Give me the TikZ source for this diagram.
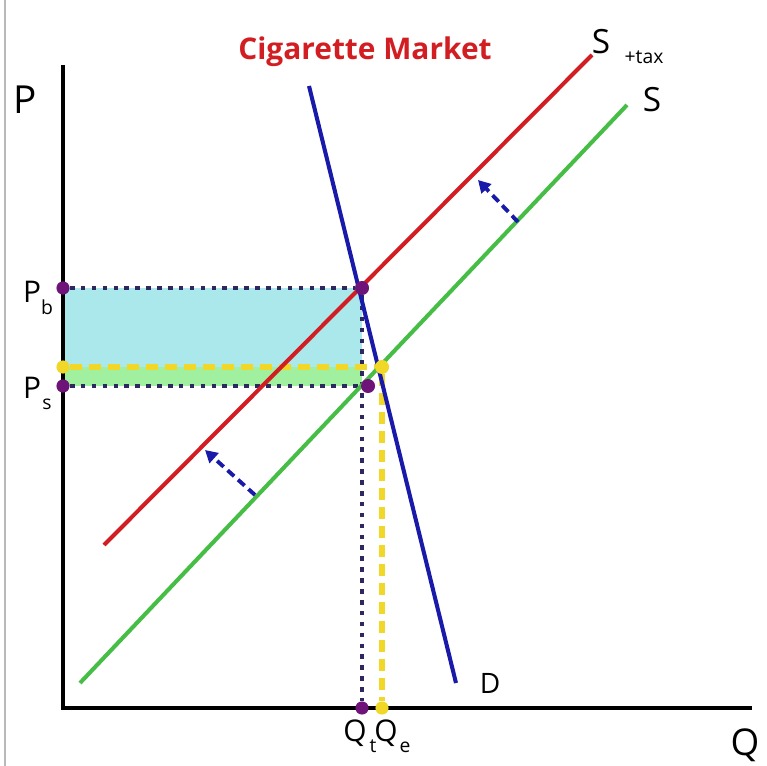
\documentclass[tikz,border=0pt]{standalone}
\usepackage{fontspec}
\setmainfont{Open Sans}
\usetikzlibrary{arrows.meta,positioning}

\definecolor{taxred}{RGB}{210,30,35}
\definecolor{supgreen}{RGB}{70,190,70}
\definecolor{demblue}{RGB}{25,25,170}
\definecolor{dotpurple}{RGB}{110,20,120}
\definecolor{dotnavy}{RGB}{45,40,95}
\definecolor{eqyellow}{RGB}{240,215,40}
\definecolor{revcyan}{RGB}{170,232,236}
\definecolor{bandgreen}{RGB}{160,240,160}

\begin{document}
\begin{tikzpicture}[x=0.02cm,y=-0.02cm,
  axis/.style={line width=2.8pt},
  curve/.style={line width=2.3pt},
  dotline/.style={dotnavy,line width=2.4pt,dash pattern=on 2.6pt off 3.6pt},
  eqline/.style={eqyellow,line width=3.4pt,dash pattern=on 7pt off 3.8pt},
  shift arrow/.style={demblue,line width=2.2pt,dash pattern=on 5pt off 3pt,-{Triangle[length=7pt,width=7.5pt]}},
  pdot/.style={circle,fill=dotpurple,inner sep=0pt,minimum size=7.5pt},
  ydot/.style={circle,fill=eqyellow,inner sep=0pt,minimum size=7.5pt},
  lab/.style={inner sep=0pt}]
\useasboundingbox (0,0) rectangle (767,766);

%% frame line at the left edge
\draw[gray!55,line width=0.8pt] (5,0) -- (5,766);

%% key points
\coordinate (O) at (63,708);      % origin
\coordinate (Ptop) at (63,65);    % top of price axis
\coordinate (Qend) at (752,708);  % end of quantity axis

\coordinate (T1) at (104,545);    % S+tax
\coordinate (T2) at (592,55);
\coordinate (S1) at (80,683);     % S
\coordinate (S2) at (627,105);
\coordinate (D1) at (309,86);     % D
\coordinate (D2) at (456,683);

%% tax revenue area
\fill[revcyan] (63,288) rectangle (362,386);
\fill[bandgreen] (63,367) rectangle (362,386);

%% axes
\draw[axis] (Ptop) -- (O) -- (Qend);

%% dots
\node[pdot] (Pb) at (63,288) {};
\node[pdot] (Bdot) at (362,288) {};
\node[pdot] (Ps) at (63,386) {};
\node[pdot] (Sdot) at (368,386) {};
\node[pdot] (Qt) at (362,708) {};
\node[ydot] (Pe) at (63,367) {};
\node[ydot] (Edot) at (382,367) {};
\node[ydot] (Qe) at (382,708) {};

%% dotted and dashed guides
\draw[dotline] (Pb) -- (Bdot);
\draw[dotline] (Ps) -- (Sdot);
\draw[dotline] (Bdot) -- (Qt);
\draw[eqline] (Pe) -- (Edot);
\draw[eqline] (Edot) -- (Qe);

%% curves
\draw[curve,supgreen] (S1) -- (S2);
\draw[curve,taxred] (T1) -- (T2);
\draw[curve,demblue] (D1) -- (D2);

%% redraw dots on top
\fill[dotpurple] (Bdot) circle (7);
\fill[dotpurple] (Sdot) circle (7);
\fill[eqyellow] (Edot) circle (7);

%% shift arrows
\coordinate (a1s) at (255,495); \coordinate (a1t) at (205,450);
\coordinate (a2s) at (518,222); \coordinate (a2t) at (478,180);
\draw[shift arrow] (a1s) -- (a1t);
\draw[shift arrow] (a2s) -- (a2t);

%% labels
\node[lab,font=\bfseries\fontsize{17}{20}\selectfont,text=taxred] (title) at (365,52) {Cigarette Market};
\node[lab,font=\fontsize{22}{26}\selectfont] (Plab) at (25,100) {P};
\node[lab,font=\fontsize{21}{25}\selectfont] (Qlab) at (745,745) {Q};
\node[lab,font=\fontsize{19}{23}\selectfont] (Slab) at (652,100) {S};
\node[lab,font=\fontsize{19}{23}\selectfont] (STlab) at (601,42) {S};
\node[lab,font=\fontsize{11}{13}\selectfont] (taxlab) at (644,57) {+tax};
\node[lab,font=\fontsize{16}{19}\selectfont] (Dlab) at (490,683) {D};
\node[lab,font=\fontsize{17}{20}\selectfont] (Pblab) at (32,292) {P};
\node[lab,font=\fontsize{11}{13}\selectfont] (blab) at (47,307) {b};
\node[lab,font=\fontsize{17}{20}\selectfont] (Pslab) at (32,388) {P};
\node[lab,font=\fontsize{11}{13}\selectfont] (slab) at (47,404) {s};
\node[lab,font=\fontsize{17}{20}\selectfont] (Qtlab) at (355,733) {Q};
\node[lab,font=\fontsize{11}{13}\selectfont] (tlab) at (373,746) {t};
\node[lab,font=\fontsize{17}{20}\selectfont] (Qelab) at (386,733) {Q};
\node[lab,font=\fontsize{11}{13}\selectfont] (elab) at (405,747) {e};
\end{tikzpicture}
\end{document}
